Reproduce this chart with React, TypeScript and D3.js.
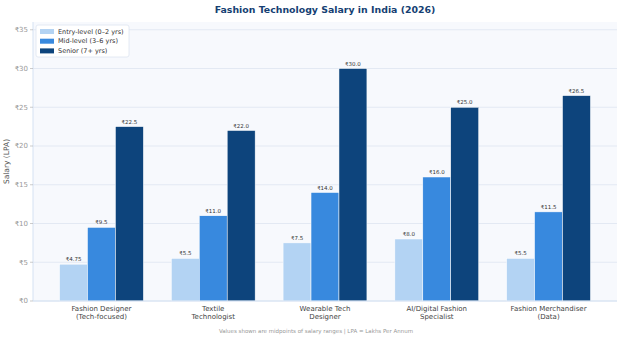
import React, { useEffect, useRef } from "react";
import * as d3 from "d3";

const roles: string[][] = [
  ["Fashion Designer", "(Tech-focused)"],
  ["Textile", "Technologist"],
  ["Wearable Tech", "Designer"],
  ["AI/Digital Fashion", "Specialist"],
  ["Fashion Merchandiser", "(Data)"],
];
const entryLevel = [4.75, 5.5, 7.5, 8.0, 5.5];
const midLevel = [9.5, 11.0, 14.0, 16.0, 11.5];
const senior = [22.5, 22.0, 30.0, 25.0, 26.5];
const seriesNames = ["Entry-level (0–2 yrs)", "Mid-level (3–6 yrs)", "Senior (7+ yrs)"];
const yTicks = [0, 5, 10, 15, 20, 25, 30, 35];

const colors = ["#b3d3f3", "#3889de", "#0d447c"];

const App = () => {
  const svgRef = useRef<SVGSVGElement | null>(null);

  useEffect(() => {
    if (!svgRef.current) return;
    const svg = d3.select(svgRef.current);
    svg.selectAll("*").remove();

    const width = 624;
    const height = 339;
    const margin = { top: 22, right: 7, bottom: 38, left: 33 };
    const innerW = width - margin.left - margin.right;
    const innerH = height - margin.top - margin.bottom;
    const font = "'DejaVu Sans', sans-serif";

    const series = [entryLevel, midLevel, senior];
    const barW = 0.25;

    const x = d3.scaleLinear().domain([-0.6125, 4.6125]).range([0, innerW]);
    const y = d3.scaleLinear().domain([0, 36]).range([innerH, 0]);

    svg.append("rect").attr("width", width).attr("height", height).attr("fill", "#ffffff");

    svg
      .append("text")
      .attr("x", 325)
      .attr("y", 12.5)
      .attr("text-anchor", "middle")
      .style("font-family", font)
      .style("font-size", "9.4px")
      .style("font-weight", "bold")
      .style("fill", "#163f73")
      .text("Fashion Technology Salary in India (2026)");

    const g = svg.append("g").attr("transform", `translate(${margin.left},${margin.top})`);

    g.append("rect").attr("width", innerW).attr("height", innerH).attr("fill", "#f7f9fd");

    // horizontal grid
    g.selectAll("line.grid")
      .data(yTicks)
      .enter()
      .append("line")
      .attr("class", "grid")
      .attr("x1", 0)
      .attr("x2", innerW)
      .attr("y1", (d) => y(d))
      .attr("y2", (d) => y(d))
      .attr("stroke", "#e3e9f3")
      .attr("stroke-width", 1);

    // bars
    series.forEach((vals, si) => {
      const offset = (si - 1) * barW;
      g.selectAll(`rect.s${si}`)
        .data(vals)
        .enter()
        .append("rect")
        .attr("class", `s${si}`)
        .attr("x", (_, i) => x(i + offset - barW / 2))
        .attr("width", x(barW) - x(0))
        .attr("y", (d) => y(d))
        .attr("height", (d) => y(0) - y(d))
        .attr("fill", colors[si])
        .attr("stroke", "#ffffff")
        .attr("stroke-width", 0.5);

      g.selectAll(`text.v${si}`)
        .data(vals)
        .enter()
        .append("text")
        .attr("class", `v${si}`)
        .attr("x", (_, i) => x(i + offset))
        .attr("y", (d) => y(d) - 3)
        .attr("text-anchor", "middle")
        .style("font-family", font)
        .style("font-size", "5.5px")
        .style("fill", "#333333")
        .text((d) => `₹${d === 4.75 ? "4.75" : d.toFixed(1)}`);
    });

    // spines
    g.append("line")
      .attr("x1", 0).attr("x2", 0).attr("y1", 0).attr("y2", innerH)
      .attr("stroke", "#d5e2f3").attr("stroke-width", 1);
    g.append("line")
      .attr("x1", 0).attr("x2", innerW).attr("y1", innerH).attr("y2", innerH)
      .attr("stroke", "#d5e2f3").attr("stroke-width", 1);

    // y ticks
    const yAxis = g.append("g");
    yTicks.forEach((t) => {
      yAxis.append("line")
        .attr("x1", -3).attr("x2", 0).attr("y1", y(t)).attr("y2", y(t))
        .attr("stroke", "#aaaaaa").attr("stroke-width", 0.6);
      yAxis.append("text")
        .attr("x", -5)
        .attr("y", y(t))
        .attr("dy", "0.35em")
        .attr("text-anchor", "end")
        .style("font-family", font)
        .style("font-size", "7px")
        .style("fill", "#999999")
        .text(`₹${t}`);
    });

    g.append("text")
      .attr("transform", `translate(${-24},${innerH / 2}) rotate(-90)`)
      .attr("text-anchor", "middle")
      .style("font-family", font)
      .style("font-size", "7.5px")
      .style("fill", "#555555")
      .text("Salary (LPA)");

    // x labels
    roles.forEach((lines, i) => {
      const t = g.append("text")
        .attr("x", x(i))
        .attr("y", innerH + 10)
        .attr("text-anchor", "middle")
        .style("font-family", font)
        .style("font-size", "7px")
        .style("fill", "#444444");
      lines.forEach((ln, li) => {
        t.append("tspan").attr("x", x(i)).attr("dy", li === 0 ? 0 : 8).text(ln);
      });
    });

    // legend
    const leg = g.append("g").attr("transform", "translate(3,3)");
    leg.append("rect")
      .attr("width", 93).attr("height", 32).attr("rx", 2)
      .attr("fill", "#ffffff").attr("stroke", "#dde5f0").attr("stroke-width", 0.8);
    seriesNames.forEach((name, i) => {
      leg.append("rect")
        .attr("x", 4).attr("y", 4 + i * 9.7).attr("width", 14).attr("height", 5)
        .attr("fill", colors[i]);
      leg.append("text")
        .attr("x", 22).attr("y", 6.5 + i * 9.7).attr("dy", "0.35em")
        .style("font-family", font).style("font-size", "6.5px").style("fill", "#333333")
        .text(name);
    });

    svg.append("text")
      .attr("x", 316)
      .attr("y", 333)
      .attr("text-anchor", "middle")
      .style("font-family", font)
      .style("font-size", "5.5px")
      .style("fill", "#999999")
      .text("Values shown are midpoints of salary ranges  |  LPA = Lakhs Per Annum");
  }, []);

  return (
    <div style={{ position: "fixed", top: 0, left: 0 }}>
      <svg ref={svgRef} width={624} height={339} style={{ display: "block" }} />
    </div>
  );
};

export default App;
